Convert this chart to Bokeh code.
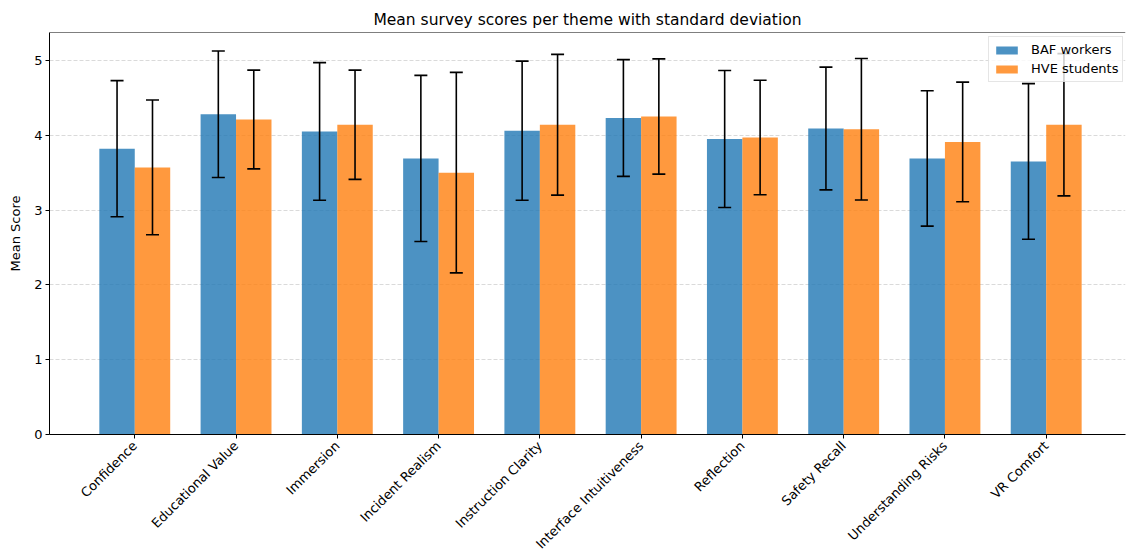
import math
import numpy as np
from bokeh.plotting import figure
from bokeh.models import ColumnDataSource, FixedTicker, Whisker, TeeHead, Range1d, Span
from bokeh.embed import file_html
from bokeh.resources import INLINE

# ---- data ----
themes = ["Confidence", "Educational Value", "Immersion", "Incident Realism",
          "Instruction Clarity", "Interface Intuitiveness", "Reflection",
          "Safety Recall", "Understanding Risks", "VR Comfort"]
baf_mean = [3.82, 4.28, 4.05, 3.69, 4.06, 4.23, 3.95, 4.09, 3.69, 3.65]
baf_sd = [0.91, 0.845, 0.92, 1.11, 0.93, 0.78, 0.915, 0.82, 0.905, 1.04]
hve_mean = [3.57, 4.21, 4.14, 3.50, 4.14, 4.25, 3.97, 4.08, 3.91, 4.14]
hve_sd = [0.90, 0.66, 0.73, 1.34, 0.94, 0.77, 0.765, 0.945, 0.80, 0.95]
series_names = ["BAF workers", "HVE students"]
y_ticks = [0, 1, 2, 3, 4, 5]

FONT = "DejaVu Sans"
BLUE = "#1f77b4"
ORANGE = "#ff7f0e"
bar_w = 0.35

idx = np.arange(len(themes))
src_baf = ColumnDataSource(dict(
    x=idx - bar_w / 2, top=baf_mean,
    upper=np.array(baf_mean) + np.array(baf_sd),
    lower=np.array(baf_mean) - np.array(baf_sd)))
src_hve = ColumnDataSource(dict(
    x=idx + bar_w / 2, top=hve_mean,
    upper=np.array(hve_mean) + np.array(hve_sd),
    lower=np.array(hve_mean) - np.array(hve_sd)))

y_top = 5.373
p = figure(frame_width=1076, frame_height=402,
           x_range=Range1d(-0.842, 9.783), y_range=Range1d(0, y_top),
           output_backend="svg", toolbar_location=None,
           min_border_left=49, min_border_right=1, min_border_top=32, min_border_bottom=0,
           title="Mean survey scores per theme with standard deviation")
p.background_fill_color = "white"
p.border_fill_color = "white"
p.outline_line_color = None

p.title.text_font = FONT
p.title.text_font_size = "15.5px"
p.title.text_font_style = "normal"
p.title.text_color = "black"
p.title.align = "center"
p.title.standoff = 7

p.vbar(x="x", top="top", width=bar_w, source=src_baf, fill_color=BLUE, fill_alpha=0.8,
       line_color=None, legend_label=series_names[0])
p.vbar(x="x", top="top", width=bar_w, source=src_hve, fill_color=ORANGE, fill_alpha=0.8,
       line_color=None, legend_label=series_names[1])

for src in (src_baf, src_hve):
    w = Whisker(base="x", upper="upper", lower="lower", source=src, dimension="height",
                line_color="black", line_width=1.6,
                upper_head=TeeHead(size=13, line_width=1.6, line_color="black"),
                lower_head=TeeHead(size=13, line_width=1.6, line_color="black"))
    w.level = "glyph"
    p.add_layout(w)

# top spine
p.add_layout(Span(location=y_top, dimension="width", line_color="black", line_width=1.2))

# grid
p.xgrid.grid_line_color = None
p.ygrid.grid_line_color = "#b0b0b0"
p.ygrid.grid_line_alpha = 0.6
p.ygrid.grid_line_dash = "4 2"
p.ygrid.grid_line_width = 0.8

# axes
p.xaxis.ticker = FixedTicker(ticks=list(range(len(themes))))
p.xaxis.major_label_overrides = {i: t for i, t in enumerate(themes)}
p.xaxis.major_label_orientation = math.pi / 4
p.yaxis.ticker = FixedTicker(ticks=y_ticks)
p.yaxis.axis_label = "Mean Score"
p.yaxis.axis_label_text_font = FONT
p.yaxis.axis_label_text_font_size = "13px"
p.yaxis.axis_label_text_font_style = "normal"
p.yaxis.axis_label_text_color = "black"
p.yaxis.axis_label_standoff = 8
for ax in (p.xaxis, p.yaxis):
    ax.axis_line_color = "black"
    ax.axis_line_width = 1
    ax.major_tick_line_color = "black"
    ax.major_tick_out = 4
    ax.major_tick_in = 0
    ax.minor_tick_line_color = None
    ax.major_label_text_font = FONT
    ax.major_label_text_font_size = "13px"
    ax.major_label_text_color = "black"
    ax.major_label_standoff = 3
p.xaxis.major_label_standoff = 5

# legend
lg = p.legend[0]
lg.location = (939, 352)
lg.label_text_font = FONT
lg.label_text_font_size = "13px"
lg.label_text_color = "black"
lg.padding = 4
lg.spacing = 2
lg.margin = 0
lg.glyph_width = 27
lg.glyph_height = 10
lg.label_height = 17
lg.label_standoff = 11
lg.border_line_color = "#cccccc"
lg.border_line_width = 1
lg.background_fill_alpha = 0.8

open("out.html", "w").write(file_html(p, INLINE))
